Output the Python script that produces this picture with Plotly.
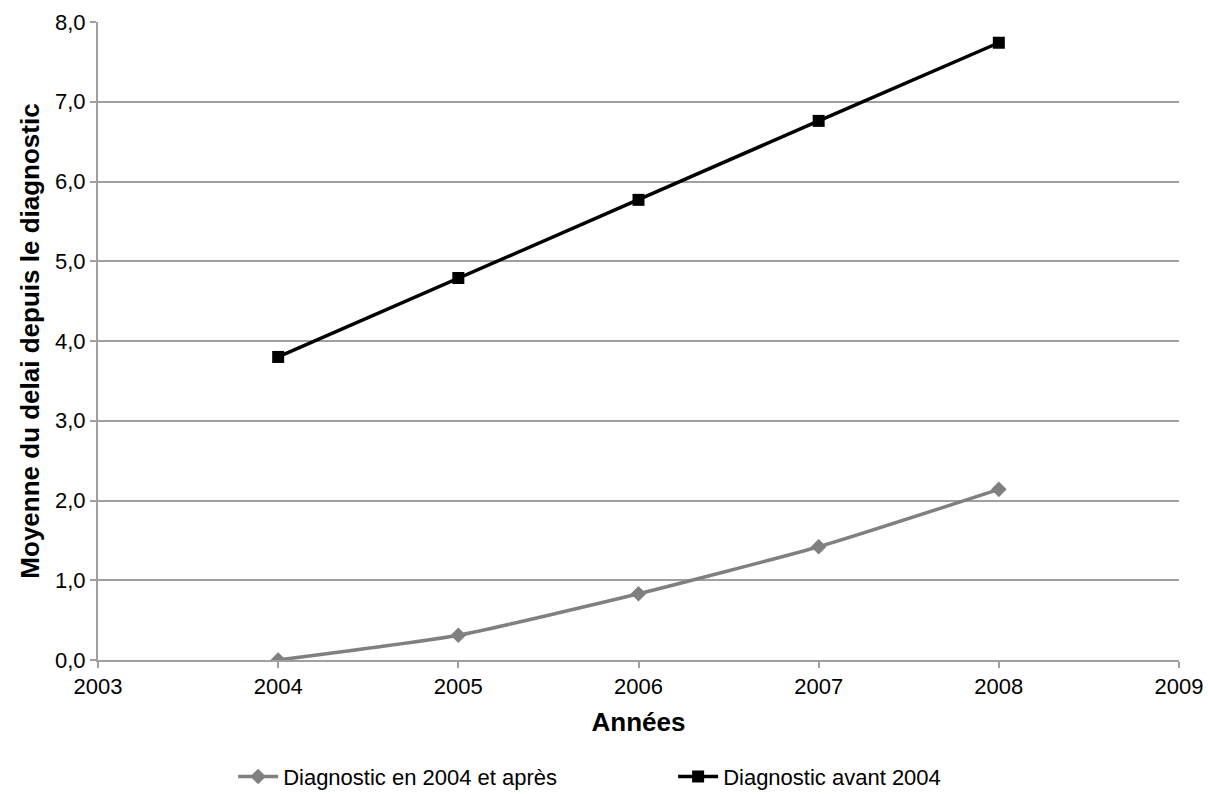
import plotly.graph_objects as go

years = [2004, 2005, 2006, 2007, 2008]
apres_2004 = [0.0, 0.31, 0.83, 1.42, 2.14]
avant_2004 = [3.80, 4.79, 5.77, 6.76, 7.74]
series_names = ["Diagnostic en 2004 et après", "Diagnostic avant 2004"]
y_ticks = [0, 1, 2, 3, 4, 5, 6, 7, 8]
x_ticks = [2003, 2004, 2005, 2006, 2007, 2008, 2009]

FONT = "Liberation Sans, Arial, sans-serif"

fig = go.Figure()
fig.add_trace(go.Scatter(
    x=years, y=apres_2004, name=series_names[0], mode="lines+markers",
    line=dict(color="#808080", width=3.5, shape="spline", smoothing=0.5),
    marker=dict(symbol="diamond", size=12, color="#808080"),
))
fig.add_trace(go.Scatter(
    x=years, y=avant_2004, name=series_names[1], mode="lines+markers",
    line=dict(color="#000000", width=3.5),
    marker=dict(symbol="square", size=12, color="#000000"),
))

fig.update_layout(
    width=1208, height=794,
    margin=dict(l=98, r=29, t=22, b=134, autoexpand=False),
    paper_bgcolor="white", plot_bgcolor="white",
    separators=", ",
    font=dict(family=FONT, size=20, color="#000000"),
    showlegend=True,
    legend=dict(orientation="h", x=0.125, xanchor="left", y=-0.15, yanchor="top",
                font=dict(family=FONT, size=22, color="#000000"), traceorder="normal", itemwidth=40,
                entrywidth=385, entrywidthmode="pixels"),
    xaxis=dict(
        range=[2003, 2009], tickvals=x_ticks, ticktext=[str(v) for v in x_ticks],
        tickfont=dict(family=FONT, size=22, color="#000000"),
        showgrid=False, zeroline=False, showline=True, linecolor="#a0a0a0", linewidth=2,
        ticks="outside", ticklen=6, tickcolor="#a0a0a0", tickwidth=2,
        title=dict(text="<b>Années</b>", font=dict(family=FONT, size=26, color="#000000"), standoff=14),
    ),
    yaxis=dict(
        range=[0, 8], tickvals=y_ticks, tickformat=".1f",
        tickfont=dict(family=FONT, size=22, color="#000000"),
        showgrid=True, gridcolor="#a0a0a0", gridwidth=2, zeroline=False,
        showline=True, linecolor="#a0a0a0", linewidth=2,
        ticks="outside", ticklen=6, tickcolor="#a0a0a0", tickwidth=2,
        title=dict(text="<b>Moyenne du delai depuis le diagnostic</b>", font=dict(family=FONT, size=26, color="#000000"), standoff=8),
    ),
)

fig.write_html("out.html")
